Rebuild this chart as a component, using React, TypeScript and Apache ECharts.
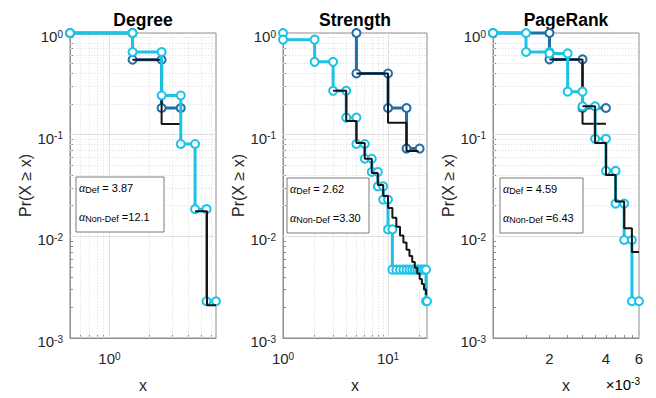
import React, { useEffect, useRef } from 'react';
import * as echarts from 'echarts';

const CYAN = '#1cc3e6';
const DARK = '#1f6ea6';
const BLACK = '#151515';
const AXIS = '#8c8c8c';
const TXT = '#262626';
const FONT = '"Liberation Sans", Arial, Helvetica, sans-serif';

// ---------- Degree ----------
const degDefX = [0.5, 1.5, 1.5, 2.5, 2.5, 3.5, 3.5, 4.5, 4.5, 5.5, 5.5, 6.5];
const degDefY = [1, 1, 0.65, 0.65, 0.243, 0.243, 0.081, 0.081, 0.0185, 0.0185, 0.0023, 0.0023];
const degNonX = [0.5, 1.5, 1.5, 2.5, 2.5, 3.5];
const degNonY = [1, 1, 0.546, 0.546, 0.183, 0.183];
const degFitNonX = [1.5, 2.5, 2.5, 3.5];
const degFitNonY = [0.546, 0.546, 0.127, 0.127];
const degFitDefX = [4.5, 5.55, 5.55, 6.5];
const degFitDefY = [0.0176, 0.0176, 0.0021, 0.0021];

// ---------- Strength ----------
const strDefX = [1, 1, 2, 2, 3, 3, 4, 4, 5, 5, 6, 6, 7, 7, 8, 8, 9, 9, 10, 10, 11, 11,
  12, 13, 14, 15, 16, 17, 18, 19, 20, 21, 22, 23, 23, 23.5];
const strDefY = [1, 0.86, 0.86, 0.52, 0.52, 0.27, 0.27, 0.147, 0.147, 0.081, 0.081, 0.058,
  0.058, 0.043, 0.043, 0.031, 0.031, 0.023, 0.023, 0.0117, 0.0117, 0.0047,
  0.0047, 0.0047, 0.0047, 0.0047, 0.0047, 0.0047, 0.0047, 0.0047, 0.0047, 0.0047, 0.0047, 0.0047,
  0.0023, 0.0023];
const strNonX = [5, 5, 10, 10, 15, 15, 20];
const strNonY = [1, 0.4, 0.4, 0.183, 0.183, 0.073, 0.073];
const strFitNonX = [5, 10, 10, 15, 15, 19.5];
const strFitNonY = [0.4, 0.4, 0.131, 0.131, 0.069, 0.069];
// step edges and levels of the fitted curve (Def)
const strFitDefEdges = [3, 4, 5, 6, 7, 8, 9, 10, 11, 12, 13, 14, 15, 16, 17, 18, 19, 20, 21, 22, 23, 23.5];
const strFitDefLevels = [0.27, 0.136, 0.083, 0.058, 0.042, 0.032, 0.025, 0.019, 0.0152, 0.0124, 0.0102,
  0.0087, 0.0074, 0.0064, 0.0056, 0.0049, 0.0043, 0.0038, 0.0034, 0.003, 0.0027];

// ---------- PageRank ----------
const prDefX = [0.001, 0.0015, 0.0015, 0.002, 0.002, 0.0025, 0.0025, 0.003, 0.003, 0.0035, 0.0035,
  0.004, 0.004, 0.0045, 0.0045, 0.005, 0.005, 0.0055, 0.0055, 0.006];
const prDefY = [1, 1, 0.65, 0.65, 0.63, 0.63, 0.265, 0.265, 0.19, 0.19, 0.091, 0.091, 0.044, 0.044,
  0.021, 0.021, 0.0092, 0.0092, 0.0023, 0.0023];
const prNonX = [0.001, 0.002, 0.002, 0.003, 0.003, 0.004];
const prNonY = [1, 1, 0.55, 0.55, 0.183, 0.183];
const prFitNonX = [0.002, 0.003, 0.003, 0.004];
const prFitNonY = [0.55, 0.55, 0.128, 0.128];
const prFitDefX = [0.003, 0.0035, 0.0035, 0.004, 0.004, 0.0045, 0.0045, 0.005, 0.005, 0.0055, 0.0055, 0.006];
const prFitDefY = [0.19, 0.19, 0.083, 0.083, 0.04, 0.04, 0.022, 0.022, 0.012, 0.012, 0.007, 0.007];

// ---------- axes / ticks ----------
const titles = ['Degree', 'Strength', 'PageRank'];
const xMins = [0.5, 1, 0.001];
const xMaxs = [6.5, 23.5, 0.006];
const xTickValues = [[1], [1, 10], [0.002, 0.004, 0.006]];
const xTickBase = [['10'], ['10', '10'], ['2', '4', '6']];
const xTickSup = [['0'], ['0', '1'], ['', '', '']];
const xGridMajor = [[1], [10], [0.002, 0.004]];
const xGridMinor = [
  [0.6, 0.7, 0.8, 0.9, 2, 3, 4, 5, 6],
  [2, 3, 4, 5, 6, 7, 8, 9, 20],
  [0.0015, 0.0025, 0.003, 0.0035, 0.0045, 0.005, 0.0055],
];
const yTickValues = [0.001, 0.01, 0.1, 1];
const yTickSup = ['-3', '-2', '-1', '0'];
const yGridMajor = [0.01, 0.1];
const yGridMinorMult = [2, 3, 4, 5, 6, 7, 8, 9];
const yDecades = [0.001, 0.01, 0.1];
const alphaDefVals = ['3.87', '2.62', '4.59'];
const alphaNonVals = ['12.1', '3.30', '6.43'];

const PLOTS = [
  { left: 70, width: 146 },
  { left: 283, width: 144 },
  { left: 493, width: 146 },
];
const TOP = 33;
const HEIGHT = 313;
const BOXES = [
  { x: 76, y: 177, w: 88, h: 55 },
  { x: 287, y: 178, w: 82, h: 55 },
  { x: 500, y: 178, w: 83, h: 55 },
];

const zip = (xs: number[], ys: number[]) => xs.map((x, i) => [x, ys[i]]);
const steps = (edges: number[], levels: number[]) => {
  const out: number[][] = [];
  levels.forEach((v, i) => {
    out.push([edges[i], v]);
    out.push([edges[i + 1], v]);
  });
  return out;
};

export default function App() {
  const ref = useRef<HTMLDivElement>(null);
  useEffect(() => {
    if (!ref.current) return;
    const chart = echarts.init(ref.current, undefined, { renderer: 'svg' });

    const yMinor: number[] = [];
    yDecades.forEach((d) => yGridMinorMult.forEach((k) => yMinor.push(d * k)));

    const panels = [
      {
        def: zip(degDefX, degDefY), non: zip(degNonX, degNonY),
        fitNon: zip(degFitNonX, degFitNonY), fitDef: zip(degFitDefX, degFitDefY),
      },
      {
        def: zip(strDefX, strDefY), non: zip(strNonX, strNonY),
        fitNon: zip(strFitNonX, strFitNonY), fitDef: steps(strFitDefEdges, strFitDefLevels),
      },
      {
        def: zip(prDefX, prDefY), non: zip(prNonX, prNonY),
        fitNon: zip(prFitNonX, prFitNonY), fitDef: zip(prFitDefX, prFitDefY),
      },
    ];

    const supRich = {
      b: { fontSize: 15, lineHeight: 15, fontFamily: FONT, color: TXT },
      s: { fontSize: 10, lineHeight: 6, verticalAlign: 'top', fontFamily: FONT, color: TXT },
    };

    const grid = PLOTS.map((p) => ({
      left: p.left, top: TOP, width: p.width, height: HEIGHT,
      show: true, borderColor: AXIS, borderWidth: 1, backgroundColor: '#fff',
    }));

    const xAxis = PLOTS.map((_, i) => ({
      type: 'log', logBase: 10, gridIndex: i, min: xMins[i], max: xMaxs[i],
      axisLine: { show: true, lineStyle: { color: AXIS } },
      axisTick: {
        show: true, inside: true, length: 3,
        customValues: [...xGridMajor[i], ...xGridMinor[i]],
        lineStyle: { color: AXIS },
      },
      axisLabel: {
        customValues: xTickValues[i],
        margin: 13,
        formatter: (v: number) => {
          const k = xTickValues[i].findIndex((t) => Math.abs(t - v) / t < 1e-6);
          if (k < 0) return '';
          const s = xTickSup[i][k];
          return s ? `{b|${xTickBase[i][k]}}{s|${s}}` : `{b|${xTickBase[i][k]}}`;
        },
        rich: supRich,
      },
      splitLine: { show: false },
      name: 'x', nameLocation: 'middle', nameGap: 39,
      nameTextStyle: { fontSize: 16, fontFamily: FONT, color: TXT },
    }));

    const yAxis = PLOTS.map((_, i) => ({
      type: 'log', logBase: 10, gridIndex: i, min: 0.001, max: 1,
      axisLine: { show: true, lineStyle: { color: AXIS } },
      axisTick: {
        show: true, inside: true, length: 3,
        customValues: [...yGridMajor, ...yMinor],
        lineStyle: { color: AXIS },
      },
      axisLabel: {
        customValues: yTickValues,
        margin: 7,
        padding: [7, 0, 0, 0],
        formatter: (v: number) => {
          const k = yTickValues.findIndex((t) => Math.abs(t - v) / t < 1e-6);
          return k < 0 ? '' : `{b|10}{s|${yTickSup[k]}}`;
        },
        rich: supRich,
      },
      splitLine: { show: false },
      name: 'Pr(X \u2265 x)', nameLocation: 'middle', nameGap: 37, nameRotate: 90,
      nameTextStyle: { fontSize: 16, fontFamily: FONT, color: TXT },
    }));

    const series: any[] = [];
    PLOTS.forEach((_, i) => {
      const majorStyle = { color: '#e0e0e0', type: 'solid', width: 1 };
      const minorStyle = { color: '#e6e6e6', type: [1.5, 1.5], width: 1 };
      series.push({
        type: 'line', xAxisIndex: i, yAxisIndex: i, silent: true, z: 1,
        data: [[xMins[i], 0.001]], symbol: 'none', lineStyle: { width: 0 },
        markLine: {
          silent: true, z: 1, symbol: ['none', 'none'], label: { show: false },
          emphasis: { disabled: true },
          data: [
            ...xGridMinor[i].map((v) => ({ xAxis: v, lineStyle: minorStyle })),
            ...xGridMajor[i].map((v) => ({ xAxis: v, lineStyle: majorStyle })),
            ...yMinor.map((v) => ({ yAxis: v, lineStyle: minorStyle })),
            ...yGridMajor.map((v) => ({ yAxis: v, lineStyle: majorStyle })),
          ],
        },
      });
      const p = panels[i];
      series.push({
        type: 'line', xAxisIndex: i, yAxisIndex: i, data: p.non, z: 2, clip: false,
        symbol: 'emptyCircle', symbolSize: 8, showSymbol: true,
        lineStyle: { color: DARK, width: 3 }, itemStyle: { color: DARK, borderWidth: 1.5 },
      });
      series.push({
        type: 'line', xAxisIndex: i, yAxisIndex: i, data: p.fitNon, z: 3, clip: false,
        symbol: 'none', lineStyle: { color: BLACK, width: 2 },
      });
      series.push({
        type: 'line', xAxisIndex: i, yAxisIndex: i, data: p.def, z: 4, clip: false,
        symbol: 'emptyCircle', symbolSize: 8, showSymbol: true,
        lineStyle: { color: CYAN, width: 3 }, itemStyle: { color: CYAN, borderWidth: 1.5 },
      });
      series.push({
        type: 'line', xAxisIndex: i, yAxisIndex: i, data: p.fitDef, z: 5, clip: false,
        symbol: 'none', lineStyle: { color: BLACK, width: 2 },
      });
    });

    const graphic: any[] = [];
    PLOTS.forEach((p, i) => {
      graphic.push({
        type: 'text', x: p.left + p.width / 2, y: 20, silent: true,
        style: {
          text: titles[i], fill: '#000', font: `bold 17.5px ${FONT}`,
          align: 'center', verticalAlign: 'middle',
        },
      });
      const b = BOXES[i];
      graphic.push({
        type: 'rect', shape: { x: b.x, y: b.y, width: b.w, height: b.h }, silent: true,
        style: { fill: '#fff', stroke: '#7a7a7a', lineWidth: 1 }, z: 10,
      });
      const rich = {
        a: { fontFamily: '"Liberation Serif", serif', fontStyle: 'italic', fontSize: 12, lineHeight: 12, color: TXT },
        s: { fontFamily: FONT, fontSize: 9, lineHeight: 4, verticalAlign: 'bottom', color: TXT },
        m: { fontFamily: FONT, fontSize: 11, lineHeight: 12, color: TXT },
      };
      graphic.push({
        type: 'text', x: b.x + 3, y: b.y + 11, z: 11, silent: true,
        style: { text: `{a|\u03b1}{s|Def}{m| = ${alphaDefVals[i]}}`, rich, verticalAlign: 'middle', align: 'left' },
      });
      graphic.push({
        type: 'text', x: b.x + 3, y: b.y + 40, z: 11, silent: true,
        style: { text: `{a|\u03b1}{s|Non-Def}{m| =${alphaNonVals[i]}}`, rich, verticalAlign: 'middle', align: 'left' },
      });
    });
    graphic.push({
      type: 'text', x: 640, y: 384, silent: true,
      style: {
        text: '{b|\u00d710}{s|-3}', align: 'right', verticalAlign: 'middle',
        rich: supRich,
      },
    });

    chart.setOption({
      animation: false,
      backgroundColor: '#fff',
      grid, xAxis, yAxis, series, graphic,
    });
    return () => chart.dispose();
  }, []);
  return <div ref={ref} style={{ position: 'absolute', left: 0, top: 0, width: 656, height: 398 }} />;
}
